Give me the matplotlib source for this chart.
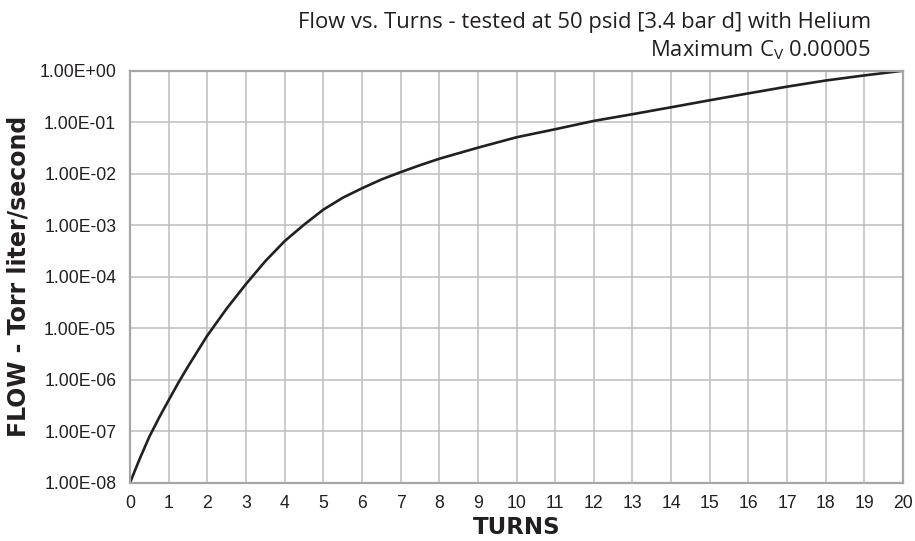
import matplotlib as mpl
import matplotlib.pyplot as plt
from matplotlib.ticker import FixedLocator, FuncFormatter, NullLocator

# readings: turns vs flow (Torr liter/second)
turns = [0, 0.25, 0.5, 0.75, 1, 1.25, 1.5, 2, 2.5, 3, 3.5, 4, 4.5, 5, 5.5,
         6, 6.5, 7, 7.5, 8, 9, 10, 11, 12, 13, 14, 15, 16, 17, 18, 19, 20]
flow = [1.0e-8, 2.9e-8, 7.8e-8, 1.82e-7, 4.0e-7, 8.7e-7, 1.8e-6, 7.2e-6,
        2.4e-5, 7.2e-5, 2.0e-4, 4.9e-4, 1.02e-3, 2.0e-3, 3.4e-3, 5.2e-3,
        7.7e-3, 1.07e-2, 1.46e-2, 1.95e-2, 3.2e-2, 5.1e-2, 7.3e-2, 0.106,
        0.143, 0.195, 0.267, 0.363, 0.49, 0.645, 0.81, 1.0]

xticks = list(range(0, 21))
yticks = [1e-8, 1e-7, 1e-6, 1e-5, 1e-4, 1e-3, 1e-2, 1e-1, 1e0]

mpl.rcParams['font.family'] = ['Liberation Sans', 'DejaVu Sans']

fig = plt.figure(figsize=(9.15, 5.41), dpi=100)
ax = fig.add_axes([0.1421, 0.1078, 0.8448, 0.7615])

ax.plot(turns, flow, color='#231f20', linewidth=1.9, solid_capstyle='round',
        solid_joinstyle='round')

ax.set_yscale('log')
ax.set_xlim(0, 20)
ax.set_ylim(1e-8, 1)
ax.xaxis.set_major_locator(FixedLocator(xticks))
ax.yaxis.set_major_locator(FixedLocator(yticks))
ax.yaxis.set_minor_locator(NullLocator())
ax.yaxis.set_major_formatter(FuncFormatter(lambda v, p: f"{v:.2E}"))

ax.grid(True, color='#bdbdbd', linewidth=1.1)
ax.set_axisbelow(True)
for s in ax.spines.values():
    s.set_color('#a6a6a6')
    s.set_linewidth(1.6)

ax.tick_params(axis='both', length=0, labelsize=12.7, colors='#231f20')
ax.tick_params(axis='x', pad=9)
ax.tick_params(axis='y', pad=10)

heavy = ['DejaVu Sans']
ax.set_xlabel('TURNS', fontsize=16.5, fontweight='bold', family=heavy,
              color='#231f20', labelpad=3)
ax.set_ylabel('FLOW - Torr liter/second', fontsize=17, fontweight='bold',
              family=heavy, color='#231f20', labelpad=6)

title_font = ['Open Sans', 'DejaVu Sans']
fig.text(0.952, 0.958, 'Flow vs. Turns - tested at 50 psid [3.4 bar d] with Helium',
         ha='right', va='center', fontsize=15.8, family=title_font, color='#231f20')
fig.text(0.952, 0.908, r'Maximum C$_\mathregular{V}$ 0.00005',
         ha='right', va='center', fontsize=15.8, family=title_font, color='#231f20')

fig.savefig('out.png', dpi=100)
